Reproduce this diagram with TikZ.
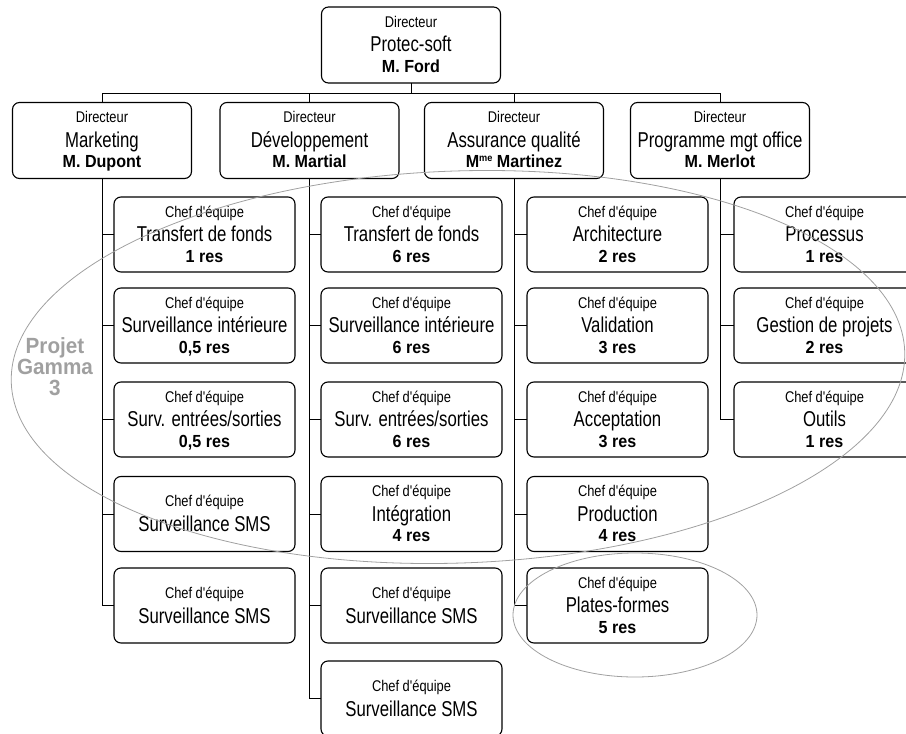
\documentclass[tikz,border=0pt]{standalone}
\usepackage{fontspec}
\setmainfont{Liberation Sans}[FakeStretch=0.78, BoldFeatures={FakeStretch=0.92}]
\newfontfamily\smallfam{Liberation Sans}[FakeStretch=0.83]
\newfontfamily\gammafam{Liberation Sans}[FakeStretch=0.94]
\definecolor{ringgray}{HTML}{A0A0A0}
\tikzset{
  box/.style={draw, line width=1.1pt, rounded corners=7pt, minimum width=181pt, minimum height=75pt, inner sep=0pt, outer sep=0pt},
  dirbox/.style={box, minimum width=179pt, minimum height=76pt},
  smalltxt/.style={anchor=base, inner sep=0pt, font=\smallfam\fontsize{15.5}{15.5}\selectfont},
  maintxt/.style={anchor=base, inner sep=0pt, font=\fontsize{21.5}{21.5}\selectfont},
  boldtxt/.style={anchor=base, inner sep=0pt, font=\bfseries\fontsize{17.5}{17.5}\selectfont},
  link/.style={draw, line width=0.9pt},
  ring/.style={draw=ringgray, line width=0.8pt},
  gammatxt/.style={anchor=base, inner sep=0pt, text=ringgray, font=\gammafam\bfseries\fontsize{22}{22}\selectfont}
}
\newcommand\orgthree[7]{%
  \node[#2] (#1) at (#3,#4) {};
  \node[smalltxt] (#1-a) at ([yshift=-20pt]#1.north) {#5};
  \node[maintxt] (#1-b) at ([yshift=-44.5pt]#1.north) {#6};
  \node[boldtxt] (#1-c) at ([yshift=-65pt]#1.north) {#7};
}
\newcommand\orgtwo[5]{%
  \node[#2] (#1) at (#3,#4) {};
  \node[smalltxt] (#1-a) at ([yshift=-30pt]#1.north) {Chef d'équipe};
  \node[maintxt] (#1-b) at ([yshift=-55pt]#1.north) {#5};
}
\begin{document}
\begin{tikzpicture}[x=1pt,y=-1pt]
\useasboundingbox (0,0) rectangle (906,734);
\clip (0,0) rectangle (906,734);
% level 1 and 2
\orgthree{d0}{dirbox}{411}{45}{Directeur}{Protec-soft}{M. Ford}
\orgthree{d1}{dirbox}{102}{140.5}{Directeur}{Marketing}{M. Dupont}
\orgthree{d2}{dirbox}{309.5}{140.5}{Directeur}{Développement}{M. Martial}
\orgthree{d3}{dirbox}{514}{140.5}{Directeur}{Assurance qualité}{M\raisebox{6pt}{\fontsize{10}{10}\selectfont me} Martinez}
\orgthree{d4}{dirbox}{720}{140.5}{Directeur}{Programme mgt office}{M. Merlot}
% column 1
\orgthree{c11}{box}{204.5}{234.5}{Chef d'équipe}{Transfert de fonds}{1 res}
\orgthree{c12}{box}{204.5}{325.5}{Chef d'équipe}{Surveillance intérieure}{0,5 res}
\orgthree{c13}{box}{204.5}{419.5}{Chef d'équipe}{Surv. entrées/sorties}{0,5 res}
\orgtwo{c14}{box}{204.5}{514}{Surveillance SMS}
\orgtwo{c15}{box}{204.5}{605.5}{Surveillance SMS}
% column 2
\orgthree{c21}{box}{411.5}{234.5}{Chef d'équipe}{Transfert de fonds}{6 res}
\orgthree{c22}{box}{411.5}{325.5}{Chef d'équipe}{Surveillance intérieure}{6 res}
\orgthree{c23}{box}{411.5}{419.5}{Chef d'équipe}{Surv. entrées/sorties}{6 res}
\orgthree{c24}{box}{411.5}{514}{Chef d'équipe}{Intégration}{4 res}
\orgtwo{c25}{box}{411.5}{605.5}{Surveillance SMS}
\orgtwo{c26}{box}{411.5}{698.5}{Surveillance SMS}
% column 3
\orgthree{c31}{box}{617.5}{234.5}{Chef d'équipe}{Architecture}{2 res}
\orgthree{c32}{box}{617.5}{325.5}{Chef d'équipe}{Validation}{3 res}
\orgthree{c33}{box}{617.5}{419.5}{Chef d'équipe}{Acceptation}{3 res}
\orgthree{c34}{box}{617.5}{514}{Chef d'équipe}{Production}{4 res}
\orgthree{c35}{box}{617.5}{605.5}{Chef d'équipe}{Plates-formes}{5 res}
% column 4
\orgthree{c41}{box}{824.5}{234.5}{Chef d'équipe}{Processus}{1 res}
\orgthree{c42}{box}{824.5}{325.5}{Chef d'équipe}{Gestion de projets}{2 res}
\orgthree{c43}{box}{824.5}{419.5}{Chef d'équipe}{Outils}{1 res}
% connectors top
\draw[link] (d0.south) -- ++(0,11);
\draw[link] (d1.north) -- ++(0,-9) -| (d4.north);
\draw[link] (d2.north) -- ++(0,-9);
\draw[link] (d3.north) -- ++(0,-9);
% stems
\draw[link] (d1.south) |- (c15.west);
\foreach \r in {1,2,3,4} \draw[link] (d1.south |- c1\r.west) -- (c1\r.west);
\draw[link] (d2.south) |- (c26.west);
\foreach \r in {1,2,3,4,5} \draw[link] (d2.south |- c2\r.west) -- (c2\r.west);
\draw[link] (d3.south) |- (c35.west);
\foreach \r in {1,2,3,4} \draw[link] (d3.south |- c3\r.west) -- (c3\r.west);
\draw[link] (d4.south) |- (c43.west);
\foreach \r in {1,2} \draw[link] (d4.south |- c4\r.west) -- (c4\r.west);
% project rings
\draw[ring] (458,367) ellipse [x radius=447pt, y radius=196pt, rotate=2];
\draw[ring] (635,615) ellipse [x radius=122pt, y radius=62pt];
\node[gammatxt] (gamma1) at (55,353) {Projet};
\node[gammatxt] (gamma2) at (55,374) {Gamma};
\node[gammatxt] (gamma3) at (55,395) {3};
\end{tikzpicture}
\end{document}
